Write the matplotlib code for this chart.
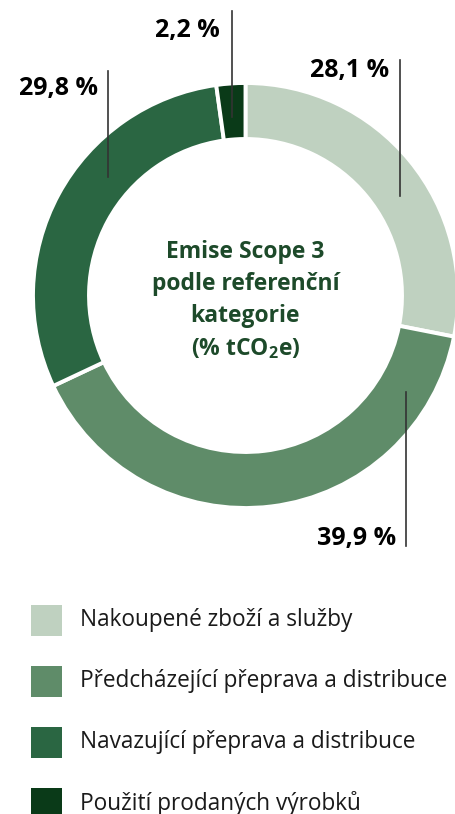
import matplotlib
matplotlib.use("Agg")
import matplotlib.pyplot as plt
from matplotlib.patches import Rectangle

plt.rcParams['font.family'] = ['Open Sans', 'DejaVu Sans']
plt.rcParams['mathtext.default'] = 'regular'

categories = ['Nakoupené zboží a služby',
              'Předcházející přeprava a distribuce',
              'Navazující přeprava a distribuce',
              'Použití prodaných výrobků']
shares = [28.1, 39.9, 29.8, 2.2]
colors = ['#bfd1c0', '#5f8c69', '#2a6642', '#0a3a18']
title = 'Emise Scope 3\npodle referenční\nkategorie\n(% tCO$_2$e)'

W, H = 456, 814
fig = plt.figure(figsize=(W / 100, H / 100), dpi=100)
ax = fig.add_axes([0, 0, 1, 1])

cx, cy, R = 245.5, H - 295.5, 212.5
ax.pie(shares, colors=colors, startangle=90, counterclock=False,
       center=(cx, cy), radius=R,
       wedgeprops=dict(width=56, edgecolor='white', linewidth=2.8))
ax.set_xlim(0, W)
ax.set_ylim(0, H)
ax.set_aspect('equal')
ax.axis('off')

ax.text(cx, cy - 5, title, ha='center', va='center', fontsize=16.5,
        fontweight='bold', color='#1d4a2a', linespacing=1.45)

# leader lines: (x, y_top, y_bottom) in px from top, label anchor
leaders = [
    (400, 60, 196, 350, 70, 'center'),
    (406, 392, 546, 396, 538, 'right'),
    (108, 71, 177, 98, 88, 'right'),
    (232, 11, 117, 220, 30, 'right'),
]
for v, (lx, y0, y1, tx, ty, ha) in zip(shares, leaders):
    ax.plot([lx, lx], [H - y0, H - y1], color='#333333', lw=1.2)
    label = f'{v:.1f} %'.replace('.', ',')
    ax.text(tx, H - ty, label, ha=ha, va='center', fontsize=18,
            fontweight='bold', color='black')

# legend
for i, (name, c) in enumerate(zip(categories, colors)):
    yc = 620 + i * 61
    ax.add_patch(Rectangle((31, H - yc - 15.5), 31, 31, color=c, lw=0))
    ax.text(80, H - yc, name, ha='left', va='center', fontsize=16.3,
            color='#1a1a1a')

fig.savefig('out.png', dpi=100)
